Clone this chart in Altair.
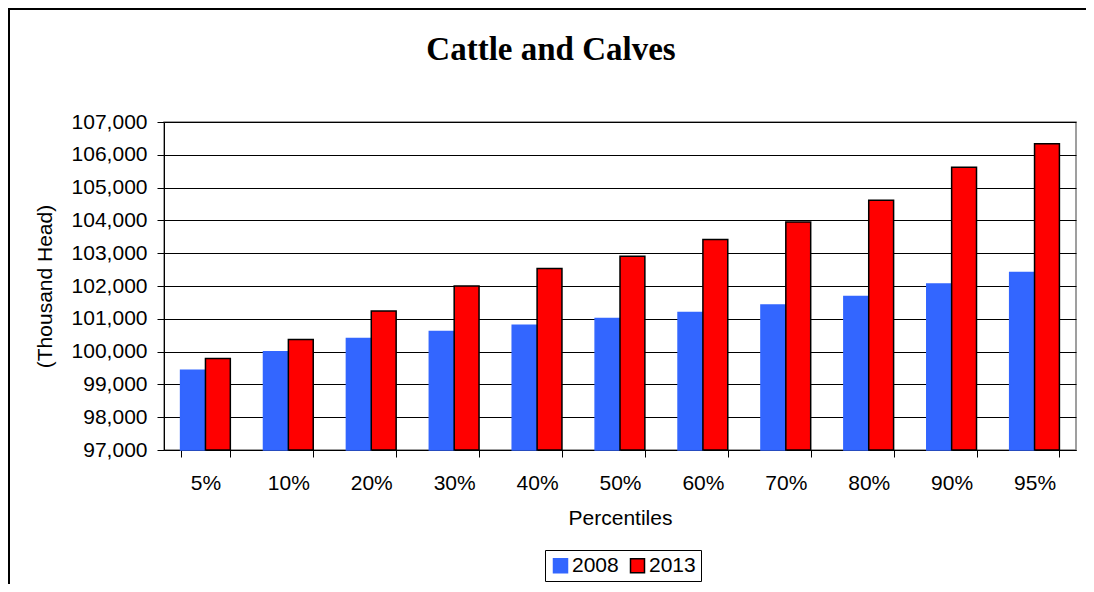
import altair as alt
import pandas as pd

percentiles = ["5%", "10%", "20%", "30%", "40%", "50%", "60%", "70%", "80%", "90%", "95%"]
values_2008 = [99430, 99995, 100400, 100615, 100800, 101010, 101190, 101420, 101680, 102060, 102410]
values_2013 = [99790, 100370, 101235, 102000, 102530, 102910, 103420, 103950, 104615, 105620, 106340]
years = ["2008", "2013"]
y_ticks = list(range(97000, 107001, 1000))
chart_title = "Cattle and Calves"

rows = []
for p, a, b in zip(percentiles, values_2008, values_2013):
    rows.append({"Percentile": p, "Year": "2008", "Value": a})
    rows.append({"Percentile": p, "Year": "2013", "Value": b})
df = pd.DataFrame(rows)

FONT = "Liberation Sans"

bars = alt.Chart(df).mark_bar(strokeWidth=1.5).encode(
    x=alt.X("Percentile:N", sort=percentiles,
            scale=alt.Scale(paddingInner=0.4, paddingOuter=0.2),
            axis=alt.Axis(title="Percentiles", labelAngle=0, tickBand="extent",
                          tickSize=7, labelPadding=15, titlePadding=14,
                          domainColor="black", tickColor="black", grid=False)),
    xOffset=alt.XOffset("Year:N", sort=years, scale=alt.Scale(paddingInner=0, paddingOuter=0)),
    y=alt.Y("Value:Q", scale=alt.Scale(domain=[97000, 107000], zero=False, nice=False),
            axis=alt.Axis(title="(Thousand Head)", values=y_ticks, format=",d",
                          tickSize=7, labelPadding=10, titlePadding=16,
                          domainColor="black", tickColor="black",
                          grid=True, gridColor="black", gridWidth=1)),
    y2=alt.datum(97000),
    color=alt.Color("Year:N", sort=years,
                    scale=alt.Scale(domain=years, range=["#3366FF", "#FF0000"]),
                    legend=alt.Legend(title=None, orient="none", legendX=381, legendY=428,
                                      direction="horizontal", symbolType="square",
                                      symbolSize=196, symbolStrokeWidth=1.5,
                                      labelFontSize=21, labelFont=FONT, labelOffset=1,
                                      columnPadding=8, strokeColor="black",
                                      padding=5)),
    stroke=alt.Stroke("Year:N", sort=years,
                      scale=alt.Scale(domain=years, range=["#3366FF", "#000000"])),
)

border = pd.DataFrame({"a": [0]})
left_edge = alt.Chart(border).mark_rule(stroke="black", strokeWidth=2).encode(
    x=alt.value(-155), y=alt.value(-114), y2=alt.value(480)
)
top_edge = alt.Chart(border).mark_rule(stroke="black", strokeWidth=2).encode(
    x=alt.value(-156), x2=alt.value(940), y=alt.value(-113)
)

title = alt.Chart(pd.DataFrame({"t": [chart_title]})).mark_text(
    font="Liberation Serif", fontSize=33, fontWeight="bold", color="black",
    align="center", baseline="alphabetic"
).encode(
    text="t:N", x=alt.value(387), y=alt.value(-62)
)

chart = alt.layer(left_edge, top_edge, bars, title).properties(
    width=912,
    height=328,
    padding={"left": 156, "top": 114, "right": 10, "bottom": 134},
    autosize=alt.AutoSizeParams(type="none"),
).configure_view(
    stroke="#808080", strokeWidth=1.5
).configure_axis(
    labelFont=FONT, titleFont=FONT, labelFontSize=21, titleFontSize=21,
    titleFontWeight="normal", labelColor="black", titleColor="black"
)

chart.save("out.html", embed_options={"renderer": "svg", "actions": False})
